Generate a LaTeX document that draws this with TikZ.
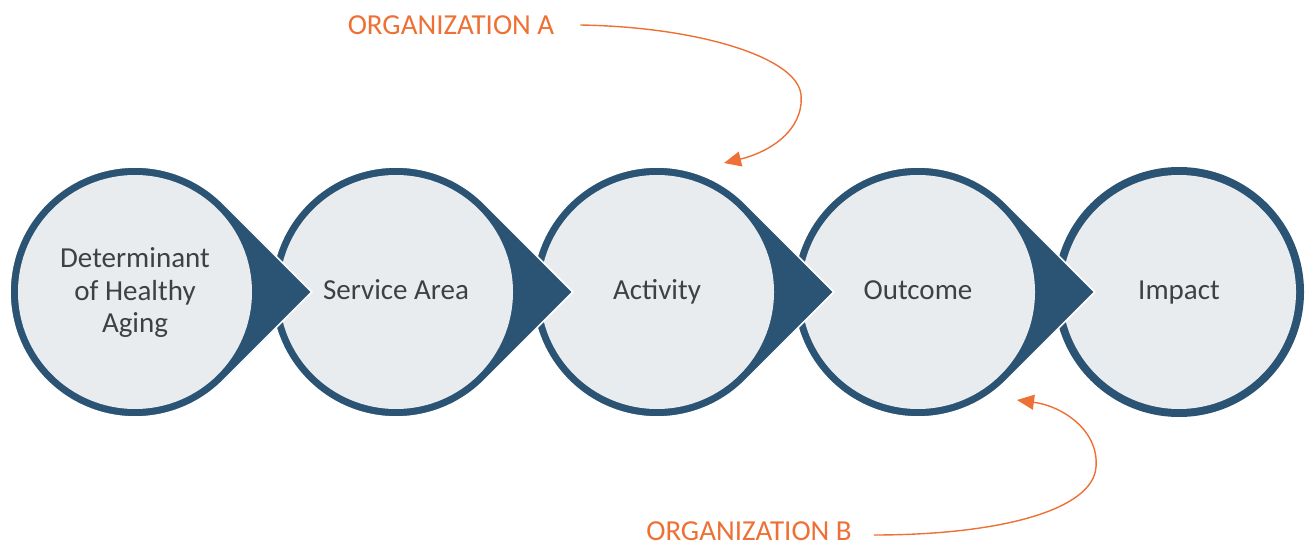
\documentclass[tikz,border=0pt]{standalone}
\usepackage{fontspec}
\setmainfont{Carlito}
\usetikzlibrary{arrows.meta,calc}
\definecolor{ringblue}{HTML}{2B5374}
\definecolor{innergray}{HTML}{E8ECEF}
\definecolor{labelgray}{HTML}{404040}
\definecolor{orgorange}{HTML}{EE7034}
\begin{document}
\begin{tikzpicture}[x=1pt,y=-1pt,
  steptext/.style={text=labelgray,align=center,font=\fontsize{29}{32.5}\selectfont},
  orglabel/.style={text=orgorange,font=\fontsize{29}{32.5}\selectfont,inner sep=0pt},
  orgarrow/.style={draw=orgorange,line width=1.4pt,-{Triangle[length=17pt,width=15pt]}},
  tearfill/.style={fill=ringblue,draw=white,line width=1.6pt},
  innerfill/.style={fill=innergray}]
\useasboundingbox (0,0) rectangle (1308,545);
% shapes, drawn right to left so each tip lies over the next circle
\fill[ringblue] (1179,292) circle[radius=125];
\fill[innerfill] (1179,292) circle[radius=117];
\foreach \cx in {918,657,396,135}{
  \path[tearfill] ($(\cx,292)+(45:125)$) arc[start angle=45,end angle=315,radius=125]
     -- ($(\cx,292)+(176.8,0)$) -- cycle;
  \fill[innerfill] (\cx,292) circle[radius=117];
}
% text nodes
\node[steptext] (c1) at (135,293) {Determinant\\of Healthy\\Aging};
\node[steptext,anchor=base] (c2) at (396,299) {Service Area};
\node[steptext,anchor=base] (c3) at (657,299) {Activity};
\node[steptext,anchor=base] (c4) at (918,299) {Outcome};
\node[steptext,anchor=base] (c5) at (1179,299) {Impact};
% organisation labels
\node[orglabel] (orgA) at (451,25) {ORGANIZATION A};
\node[orglabel] (orgB) at (749,531) {ORGANIZATION B};
\coordinate (tipA) at (724,163);
\coordinate (tipB) at (1017,400);
\draw[orgarrow] ($(orgA.east)+(26,0)$) .. controls (700,27) and (798,58) .. (801,95)
   .. controls (804,130) and (770,152) .. (tipA);
\draw[orgarrow] ($(orgB.east)+(22,4)$) .. controls (1000,535) and (1093,510) .. (1096,467)
   .. controls (1099,430) and (1062,406) .. (tipB);
\end{tikzpicture}
\end{document}
